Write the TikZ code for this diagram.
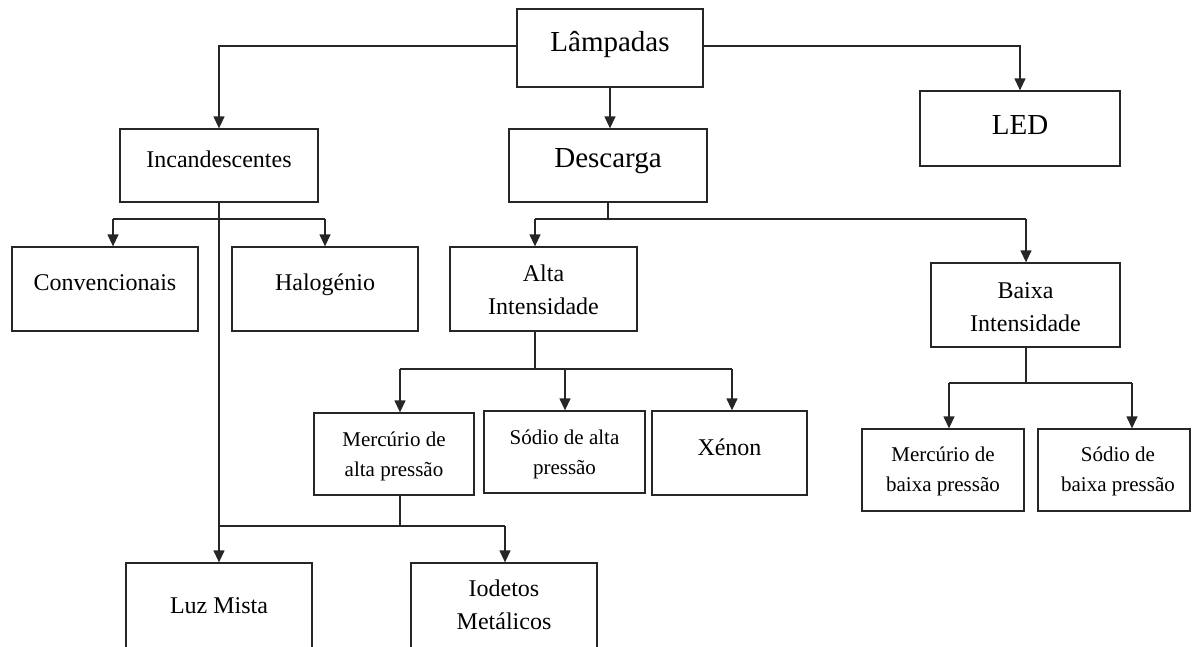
\documentclass[tikz,border=0pt]{standalone}
\usepackage{fontspec}
\setmainfont{Liberation Serif}
\usetikzlibrary{arrows.meta,calc}
\begin{document}
\begin{tikzpicture}[x=1pt,y=-1pt,
  box/.style={draw=black!85, line width=1.3pt, inner sep=0pt},
  big/.style={font=\fontsize{29}{35}\selectfont},
  med/.style={font=\fontsize{24}{33}\selectfont, align=center},
  sml/.style={font=\fontsize{21}{30}\selectfont, align=center},
  conn/.style={draw=black!85, line width=1.3pt},
  arr/.style={conn, -{Triangle[width=11pt,length=12pt]}}
]
\useasboundingbox (0,0) rectangle (1192,646);
\clip (0,0) rectangle (1192,646);

% boxes
\node[box, minimum width=186pt, minimum height=78pt, label={[big,yshift=4pt]center:Lâmpadas}] (lamp) at (610,48) {};
\node[box, minimum width=198pt, minimum height=73pt, label={[med,yshift=6pt]center:Incandescentes}] (incand) at (219,165.5) {};
\node[box, minimum width=198pt, minimum height=73pt, label={[big,yshift=4pt]center:Descarga}] (desc) at (608,165.5) {};
\node[box, minimum width=200pt, minimum height=75pt, label={[big,yshift=3pt]center:LED}] (led) at (1020,128.5) {};
\node[box, minimum width=186pt, minimum height=84pt, label={[med,yshift=6pt]center:Convencionais}] (conv) at (105,289) {};
\node[box, minimum width=186pt, minimum height=84pt, label={[med,yshift=4pt]center:Halogénio}] (halo) at (325,289) {};
\node[box, minimum width=187pt, minimum height=84pt, label={[med,yshift=-1pt]center:{Alta\\Intensidade}}] (altaI) at (543.5,289) {};
\node[box, minimum width=189pt, minimum height=84pt, label={[med,yshift=-2pt]center:{Baixa\\Intensidade}}] (baixaI) at (1025.5,305) {};
\node[box, minimum width=160pt, minimum height=82pt, label={[sml,yshift=-2pt]center:{Mercúrio de\\alta pressão}}] (mercA) at (394,454) {};
\node[box, minimum width=161pt, minimum height=82pt, label={[sml,yshift=-2pt]center:{Sódio de alta\\pressão}}] (sodA) at (564.5,452) {};
\node[box, minimum width=155pt, minimum height=84pt, label={[med,yshift=6pt]center:Xénon}] (xenon) at (729.5,453) {};
\node[box, minimum width=162pt, minimum height=82pt, label={[sml,yshift=-1pt]center:{Mercúrio de\\baixa pressão}}] (mercB) at (943,470) {};
\node[box, minimum width=152pt, minimum height=82pt, label={[sml,yshift=-1pt,xshift=4pt]center:{Sódio de\\baixa pressão}}] (sodB) at (1114,470) {};
\node[box, minimum width=186pt, minimum height=100pt, label={[med,yshift=7pt]center:Luz Mista}] (luz) at (219,613) {};
\node[box, minimum width=186pt, minimum height=100pt, label={[med,yshift=8pt]center:{Iodetos\\Metálicos}}] (iod) at (504,613) {};

% junction coordinates
\coordinate (jTop) at (0,46);
\coordinate (bI1) at (113,219);
\coordinate (bI2) at (325,219);
\coordinate (bD1) at (535,219);
\coordinate (bD2) at (1026,219);
\coordinate (bA0) at (535,369);
\coordinate (bA1) at (400,369);
\coordinate (bA2) at (565,369);
\coordinate (bA3) at (732,369);
\coordinate (bM0) at (400,526);
\coordinate (bM1) at (505,526);
\coordinate (bB0) at (1026,383);
\coordinate (bB1) at (949,383);
\coordinate (bB2) at (1132,383);

% Lâmpadas
\draw[arr] (lamp.west |- jTop) -| (incand.north);
\draw[arr] (lamp.east |- jTop) -| (led.north);
\draw[arr] (lamp.south) -- (lamp.south |- desc.north);

% Incandescentes
\draw[conn] (bI1) -- (bI2);
\draw[arr] (bI1) -- (bI1 |- conv.north);
\draw[arr] (bI2) -- (bI2 |- halo.north);
\draw[arr] (incand.south) -- (luz.north);

% Descarga
\draw[conn] (desc.south) -- (desc.south |- bD1);
\draw[conn] (bD1) -- (bD2);
\draw[arr] (bD1) -- (bD1 |- altaI.north);
\draw[arr] (bD2) -- (bD2 |- baixaI.north);

% Alta Intensidade
\draw[conn] (bA0 |- altaI.south) -- (bA0);
\draw[conn] (bA1) -- (bA3);
\draw[arr] (bA1) -- (bA1 |- mercA.north);
\draw[arr] (bA2) -- (bA2 |- sodA.north);
\draw[arr] (bA3) -- (bA3 |- xenon.north);

% Mercúrio de alta pressão
\draw[conn] (bM0 |- mercA.south) -- (bM0);
\draw[conn] (incand.south |- bM0) -- (bM1);
\draw[arr] (bM1) -- (bM1 |- iod.north);

% Baixa Intensidade
\draw[conn] (baixaI.south -| bB0) -- (bB0);
\draw[conn] (bB1) -- (bB2);
\draw[arr] (bB1) -- (bB1 |- mercB.north);
\draw[arr] (bB2) -- (bB2 |- sodB.north);
\end{tikzpicture}
\end{document}
